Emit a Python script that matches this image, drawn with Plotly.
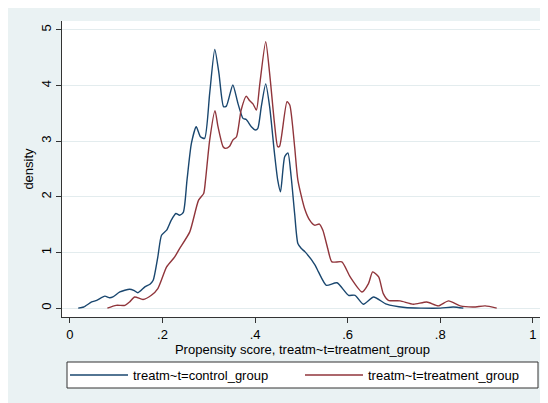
import plotly.graph_objects as go

# Kernel density of propensity score
control_x = [0.018, 0.03, 0.047, 0.058, 0.0755, 0.086, 0.093, 0.108, 0.129, 0.138, 0.147,
             0.162, 0.173, 0.180, 0.19, 0.198, 0.209, 0.219, 0.229, 0.237, 0.245, 0.253,
             0.2625, 0.273, 0.282, 0.291, 0.302, 0.313, 0.322, 0.332, 0.338, 0.352, 0.363,
             0.374, 0.381, 0.392, 0.401, 0.406, 0.4135, 0.423, 0.4315, 0.442, 0.449, 0.455,
             0.464, 0.471, 0.478, 0.4855, 0.4925, 0.50, 0.508, 0.530, 0.537, 0.554, 0.577,
             0.602, 0.616, 0.634, 0.656, 0.684, 0.724, 0.76, 0.80, 0.828, 0.85]
control_y = [0.0, 0.02, 0.11, 0.14, 0.215, 0.185, 0.20, 0.29, 0.34, 0.32, 0.275,
             0.38, 0.43, 0.50, 0.92, 1.31, 1.40, 1.58, 1.70, 1.67, 1.72, 2.30,
             2.96, 3.26, 3.08, 3.05, 3.86, 4.65, 4.22, 3.62, 3.63, 4.01, 3.68,
             3.41, 3.39, 3.26, 3.20, 3.23, 3.62, 4.03, 3.62, 2.78, 2.30, 2.09,
             2.72, 2.79, 2.36, 1.70, 1.16, 1.07, 1.01, 0.77, 0.65, 0.41, 0.455,
             0.23, 0.23, 0.07, 0.20, 0.07, 0.01, 0.0, 0.0, 0.02, 0.0]

treat_x = [0.081, 0.10, 0.119, 0.129, 0.14, 0.158, 0.176, 0.19, 0.209, 0.2265, 0.237,
           0.259, 0.278, 0.289, 0.293, 0.302, 0.3135, 0.32, 0.331, 0.3365, 0.345, 0.352,
           0.36, 0.37, 0.381, 0.388, 0.3955, 0.403, 0.41, 0.423, 0.4315, 0.442, 0.449,
           0.453, 0.469, 0.475, 0.4855, 0.4925, 0.507, 0.518, 0.5285, 0.539, 0.5465,
           0.557, 0.566, 0.5875, 0.6055, 0.631, 0.645, 0.654, 0.667, 0.677, 0.688,
           0.7135, 0.742, 0.771, 0.796, 0.818, 0.843, 0.872, 0.897, 0.922]
treat_y = [0.0, 0.05, 0.05, 0.11, 0.20, 0.155, 0.23, 0.35, 0.74, 0.92, 1.07,
           1.37, 1.94, 2.06, 2.30, 3.02, 3.55, 3.26, 2.90, 2.87, 2.91, 3.02,
           3.08, 3.56, 3.81, 3.73, 3.67, 3.56, 4.01, 4.79, 4.22, 3.32, 2.90,
           2.91, 3.71, 3.65, 2.90, 2.30, 1.79, 1.58, 1.49, 1.51, 1.40,
           1.07, 0.83, 0.83, 0.56, 0.29, 0.44, 0.65, 0.56, 0.26, 0.14,
           0.13, 0.07, 0.11, 0.04, 0.13, 0.04, 0.02, 0.04, 0.0]

series_names = ["treatm~t=control_group", "treatm~t=treatment_group"]
x_tickvals = [0, 0.2, 0.4, 0.6, 0.8, 1]
x_ticktext = ["0", ".2", ".4", ".6", ".8", "1"]
y_tickvals = [0, 1, 2, 3, 4, 5]
y_ticktext = ["0", "1", "2", "3", "4", "5"]

BLUE = "#1a476f"
RED = "#90353b"
BG = "#eaf2f3"
FONT = "Liberation Sans, Arial, sans-serif"

fig = go.Figure()
fig.add_trace(go.Scatter(x=control_x, y=control_y, mode="lines", name=series_names[0],
                         line=dict(color=BLUE, width=1.4, shape="spline", smoothing=0.6)))
fig.add_trace(go.Scatter(x=treat_x, y=treat_y, mode="lines", name=series_names[1],
                         line=dict(color=RED, width=1.4, shape="spline", smoothing=0.6)))

# the page adds an 8px body margin; figure is sized to fill the rest of the window
W, H = 540, 395
L, R, T, B = 54, 5, 13, 86
pw, ph = W - L - R, H - T - B

def fx(page_px):
    return (page_px - 8 - L) / pw

def fy(page_px):
    return (H - B - (page_px - 8)) / ph

fig.update_layout(
    width=W, height=H,
    margin=dict(l=L, r=R, t=T, b=B, pad=0, autoexpand=False),
    paper_bgcolor=BG,
    plot_bgcolor="white",
    font=dict(family=FONT, size=13, color="black"),
    shapes=[
        # legend frame
        dict(type="rect", xref="paper", yref="paper", layer="above",
             x0=fx(67), x1=fx(538), y0=fy(388), y1=fy(362),
             fillcolor="white", line=dict(color="#333333", width=1)),
    ],
    xaxis=dict(
        range=[-0.017, 1.022], tickmode="array", tickvals=x_tickvals, ticktext=x_ticktext,
        showgrid=False, zeroline=False, showline=True, linecolor="#333333", linewidth=1,
        ticks="outside", ticklen=5, tickcolor="#333333", tickfont=dict(size=13),
        automargin=False,
        title=dict(text="Propensity score, treatm~t=treatment_group",
                   font=dict(size=13), standoff=0),
    ),
    yaxis=dict(
        range=[-0.16, 5.16], tickmode="array", tickvals=y_tickvals, ticktext=y_ticktext,
        tickangle=-90, showgrid=True, gridcolor="#e3ecee", gridwidth=1,
        zeroline=False, showline=True, linecolor="#333333", linewidth=1,
        ticks="outside", ticklen=5, tickcolor="#333333", tickfont=dict(size=13),
        automargin=False,
        title=dict(text="density", font=dict(size=13), standoff=2),
    ),
    legend=dict(
        orientation="h", x=fx(65), xanchor="left", y=fy(375), yanchor="middle",
        bgcolor="rgba(0,0,0,0)", borderwidth=0,
        font=dict(size=13), itemwidth=58, entrywidth=162, traceorder="normal",
    ),
)

fig.write_html("out.html")
